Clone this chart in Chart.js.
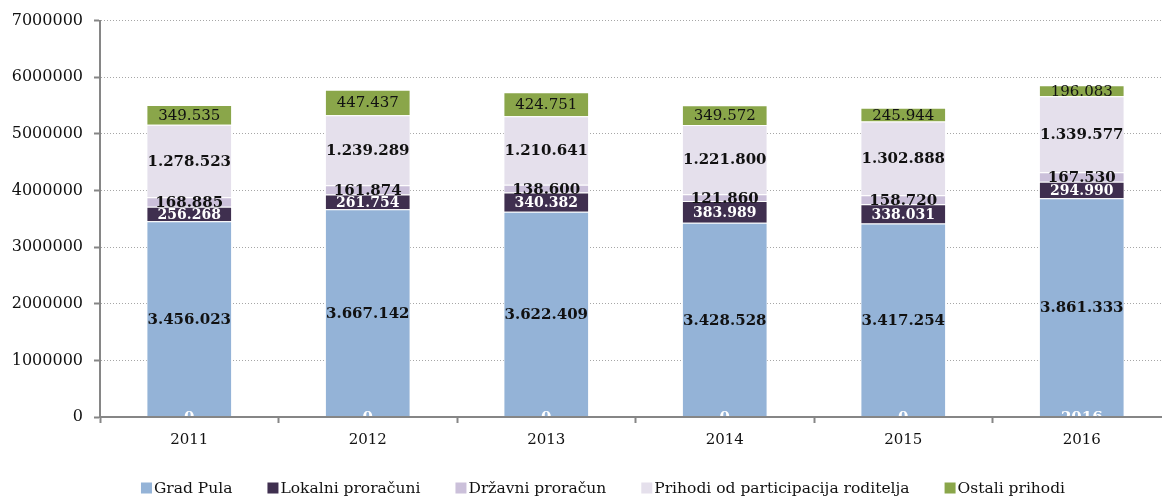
<!DOCTYPE html>
<html>
<head>
<meta charset="utf-8">
<script src="https://cdn.jsdelivr.net/npm/chart.js@4.4.1/dist/chart.umd.min.js"></script>
<style>
    html, body { margin: 0; padding: 0; background: #fff; overflow: hidden; }
    #wrap { width: 1175px; height: 497px; position: relative; }
</style>
</head>
<body>
<div id="wrap"><canvas id="chart"></canvas></div>
<script>
// categories and series
const years = ['2011', '2012', '2013', '2014', '2015', '2016'];
const gradPula = [3456023, 3667142, 3622409, 3428528, 3417254, 3861333];
const lokalniProracuni = [256268, 261754, 340382, 383989, 338031, 294990];
const drzavniProracun = [168885, 161874, 138600, 121860, 158720, 167530];
const prihodiRoditelja = [1278523, 1239289, 1210641, 1221800, 1302888, 1339577];
const ostaliPrihodi = [349535, 447437, 424751, 349572, 245944, 196083];
// odd labels sitting at the base of each bar in the original
const baseLabels = ['0', '0', '0', '0', '0', '2016'];
const yTicks = [0, 1000000, 2000000, 3000000, 4000000, 5000000, 6000000, 7000000];

const SERIF = '"DejaVu Serif", "Liberation Serif", serif';

// thousands with dots, like 3.456.023
function fmt(v) {
    return String(v).replace(/\B(?=(\d{3})+(?!\d))/g, '.');
}

// label style per dataset
const labelStyles = [
    { color: '#111', font: 'bold 15px ' + SERIF },
    { color: '#fff', font: 'bold 14px ' + SERIF },
    { color: '#111', font: 'bold 15px ' + SERIF },
    { color: '#111', font: 'bold 15px ' + SERIF },
    { color: '#111', font: '15px ' + SERIF }
];

// draws value labels inside segments + base labels + legend
const labelsPlugin = {
    id: 'segLabels',
    afterDatasetsDraw(chart) {
        const ctx = chart.ctx;
        ctx.save();
        ctx.textAlign = 'center';
        ctx.textBaseline = 'middle';
        chart.data.datasets.forEach((ds, i) => {
            const meta = chart.getDatasetMeta(i);
            ctx.fillStyle = labelStyles[i].color;
            ctx.font = labelStyles[i].font;
            meta.data.forEach((bar, j) => {
                const y = (bar.y + bar.base) / 2;
                ctx.fillText(fmt(ds.data[j]), bar.x, y + 1);
            });
        });
        // base labels (white)
        const meta0 = chart.getDatasetMeta(0);
        ctx.fillStyle = '#fff';
        ctx.font = 'bold 15px ' + SERIF;
        meta0.data.forEach((bar, j) => {
            ctx.fillText(baseLabels[j], bar.x, bar.base + 2);
        });
        ctx.restore();
    },
    afterDraw(chart) {
        // legend along the bottom
        const ctx = chart.ctx;
        ctx.save();
        ctx.font = '15.5px ' + SERIF;
        ctx.textBaseline = 'middle';
        ctx.textAlign = 'left';
        const box = 11, gap = 2, spacing = 35;
        const items = chart.data.datasets.map(ds => ({
            label: ds.label,
            color: ds.backgroundColor,
            w: box + gap + ctx.measureText(ds.label).width
        }));
        const total = items.reduce((s, it) => s + it.w, 0) + spacing * (items.length - 1);
        let x = 603 - total / 2;
        const y = 488;
        items.forEach(it => {
            ctx.fillStyle = it.color;
            ctx.fillRect(x, y - box / 2, box, box);
            ctx.fillStyle = '#111';
            ctx.fillText(it.label, x + box + gap, y + 1);
            x += it.w + spacing;
        });
        ctx.restore();
    }
};

const barOpts = {
    barPercentage: 0.48,
    categoryPercentage: 1,
    borderWidth: 1,
    borderColor: 'rgba(255,255,255,0.55)'
};

new Chart(document.getElementById('chart'), {
    type: 'bar',
    data: {
        labels: years,
        datasets: [
            { label: 'Grad Pula', data: gradPula, backgroundColor: '#94b3d7', ...barOpts },
            { label: 'Lokalni proračuni', data: lokalniProracuni, backgroundColor: '#3f2f4f', ...barOpts },
            { label: 'Državni proračun', data: drzavniProracun, backgroundColor: '#cbc0da', ...barOpts },
            { label: 'Prihodi od participacija roditelja', data: prihodiRoditelja, backgroundColor: '#e5e0ec', ...barOpts },
            { label: 'Ostali prihodi', data: ostaliPrihodi, backgroundColor: '#8aa64a', ...barOpts }
        ]
    },
    options: {
        responsive: true,
        maintainAspectRatio: false,
        animation: false,
        layout: { padding: { top: 20, right: 4, left: 0, bottom: 0 } },
        plugins: {
            legend: { display: false },
            tooltip: { enabled: false }
        },
        scales: {
            x: {
                stacked: true,
                afterFit: s => { s.height = 80; },
                grid: {
                    drawOnChartArea: false,
                    offset: true,
                    tickLength: 6,
                    tickColor: '#868686',
                    tickWidth: 2
                },
                border: { display: true, color: '#868686', width: 2, z: 1 },
                ticks: {
                    color: '#111',
                    font: { family: SERIF, size: 15 },
                    padding: 8
                }
            },
            y: {
                stacked: true,
                min: 0,
                max: 7000000,
                afterFit: s => { s.width = 100; },
                afterBuildTicks: s => { s.ticks = yTicks.map(v => ({ value: v })); },
                grid: {
                    color: '#a6a6a6',
                    lineWidth: 1,
                    tickLength: 6,
                    tickColor: '#868686',
                    tickWidth: 2
                },
                border: { display: true, color: '#868686', width: 2, dash: [1, 2], z: 1 },
                ticks: {
                    color: '#111',
                    font: { family: SERIF, size: 16 },
                    padding: 11,
                    callback: v => String(v)
                }
            }
        }
    },
    plugins: [labelsPlugin]
});
</script>
</body>
</html>
